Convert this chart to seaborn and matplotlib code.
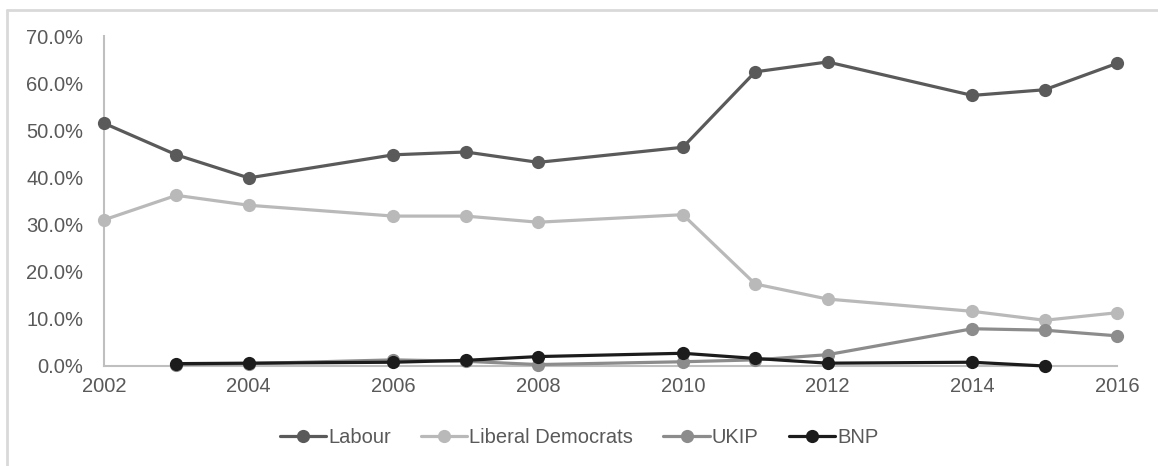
import pandas as pd
import matplotlib.pyplot as plt
import seaborn as sns
from matplotlib.ticker import PercentFormatter
from matplotlib.lines import Line2D

# values (vote share, %)
labour_years = [2002, 2003, 2004, 2006, 2007, 2008, 2010, 2011, 2012, 2014, 2015, 2016]
labour = [51.5, 44.8, 39.9, 44.8, 45.4, 43.2, 46.4, 62.4, 64.5, 57.4, 58.6, 64.2]

libdem_years = [2002, 2003, 2004, 2006, 2007, 2008, 2010, 2011, 2012, 2014, 2015, 2016]
libdem = [31.0, 36.2, 34.1, 31.8, 31.8, 30.5, 32.1, 17.4, 14.2, 11.6, 9.7, 11.3]

ukip_years = [2003, 2004, 2006, 2007, 2008, 2010, 2011, 2012, 2014, 2015, 2016]
ukip = [0.3, 0.5, 1.3, 1.0, 0.3, 0.9, 1.3, 2.4, 7.9, 7.6, 6.4]

bnp_years = [2003, 2004, 2006, 2007, 2008, 2010, 2011, 2012, 2014, 2015]
bnp = [0.5, 0.6, 0.8, 1.2, 2.0, 2.7, 1.6, 0.6, 0.8, 0.0]

parties = ["Labour", "Liberal Democrats", "UKIP", "BNP"]
colors = {"Labour": "#5a5a5a", "Liberal Democrats": "#b9b9b9",
          "UKIP": "#8c8c8c", "BNP": "#1c1c1c"}

frames = []
for name, yrs, vals in [("Labour", labour_years, labour),
                        ("Liberal Democrats", libdem_years, libdem),
                        ("UKIP", ukip_years, ukip),
                        ("BNP", bnp_years, bnp)]:
    frames.append(pd.DataFrame({"year": yrs, "share": vals, "party": name}))
df = pd.concat(frames, ignore_index=True)

sns.set_style("white")
plt.rcParams['font.family'] = ['Liberation Sans', 'DejaVu Sans']

fig = plt.figure(figsize=(11.58, 4.66), dpi=100)
ax = fig.add_axes([0.0898, 0.2146, 0.8748, 0.7081])

sns.lineplot(data=df, x="year", y="share", hue="party", hue_order=parties,
             palette=colors, marker="o", markersize=9.5, markeredgewidth=0,
             linewidth=2.3, legend=False, ax=ax)
for ln in ax.lines:
    ln.set_clip_on(False)

ax.set_xlim(2002, 2016)
ax.set_ylim(0, 70)
ax.set_xticks(range(2002, 2017, 2))
ax.set_yticks(range(0, 71, 10))
ax.yaxis.set_major_formatter(PercentFormatter(decimals=1))
ax.tick_params(axis="both", length=0, labelsize=14.5, labelcolor="#595959")
ax.tick_params(axis="x", pad=8)
ax.tick_params(axis="y", pad=15)
ax.set_xlabel("")
ax.set_ylabel("")
for side in ["top", "right"]:
    ax.spines[side].set_visible(False)
for side in ["left", "bottom"]:
    ax.spines[side].set_color("#bfbfbf")
    ax.spines[side].set_linewidth(1.5)
    ax.spines[side].set_zorder(0)

handles = [Line2D([], [], color=colors[p], marker="o", markersize=9.5,
                  markeredgewidth=0, linewidth=2.3) for p in parties]
fig.legend(handles, parties, loc="center", bbox_to_anchor=(0.5, 0.062),
           ncol=4, frameon=False, fontsize=14.5, labelcolor="#595959",
           handlelength=2.3, handletextpad=0.1, columnspacing=1.5)

# light chart border (top and left edges visible)
fig.add_artist(Line2D([0.006, 1.0], [0.979, 0.979], color="#d9d9d9", linewidth=2))
fig.add_artist(Line2D([0.006, 0.006], [0.0, 0.979], color="#d9d9d9", linewidth=2))

fig.savefig("out.png", dpi=100)
